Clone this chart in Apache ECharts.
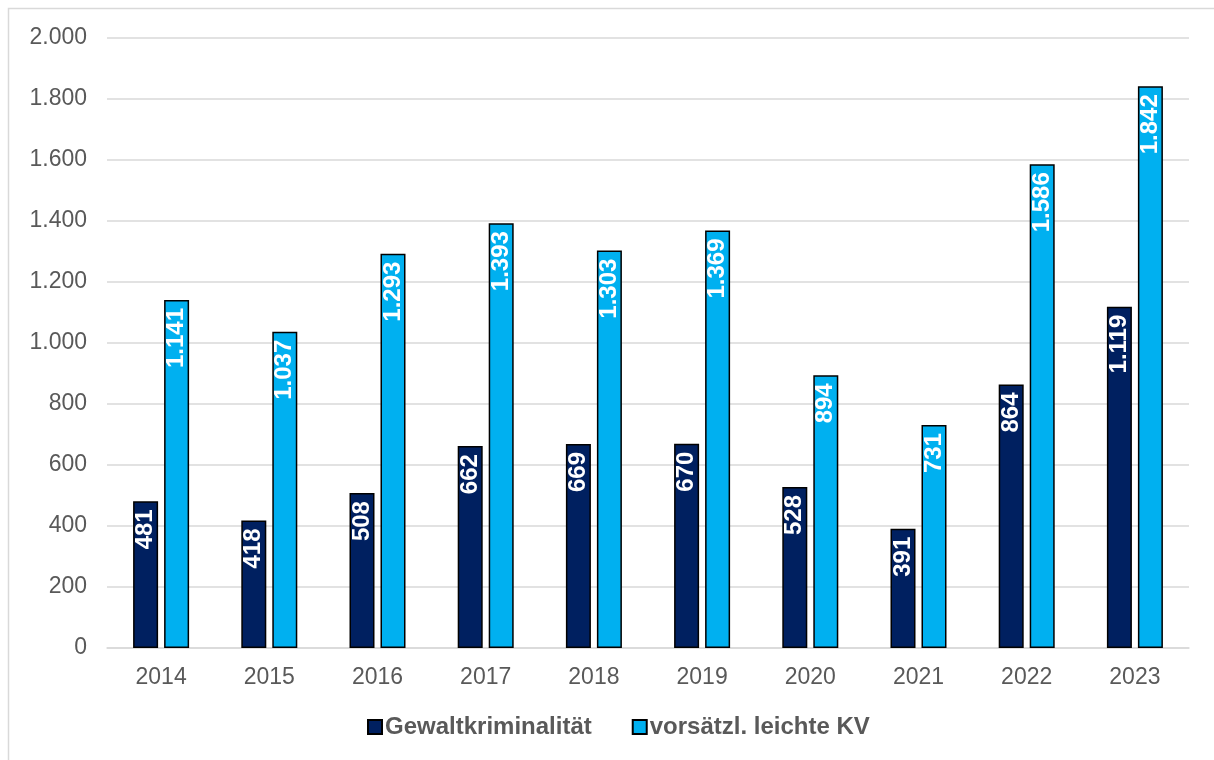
<!DOCTYPE html>
<html>
<head>
<meta charset="utf-8">
<script src="https://cdn.jsdelivr.net/npm/echarts@6/dist/echarts.min.js"></script>
<style>
  html, body { margin: 0; padding: 0; background: #ffffff; }
  #chart { width: 1214px; height: 760px; }
</style>
</head>
<body>
<div id="chart"></div>
<script>
// Jahre und Fallzahlen
const years = ['2014', '2015', '2016', '2017', '2018', '2019', '2020', '2021', '2022', '2023'];
const gewaltkriminalitaet = [481, 418, 508, 662, 669, 670, 528, 391, 864, 1119];
const leichteKV = [1141, 1037, 1293, 1393, 1303, 1369, 894, 731, 1586, 1842];
const seriesNames = ['Gewaltkriminalität', 'vorsätzl. leichte KV'];
const yTicks = { min: 0, max: 2000, interval: 200 };

const fontFamily = '"Liberation Sans", Arial, sans-serif';
const fmt = v => v.toLocaleString('de-DE');

const chart = echarts.init(document.getElementById('chart'), null, { renderer: 'canvas' });

// Wert senkrecht im oberen Ende des Balkens
const barLabel = {
  show: true,
  position: 'insideTop',
  rotate: 90,
  align: 'right',
  verticalAlign: 'middle',
  distance: 8,
  color: '#ffffff',
  fontWeight: 'bold',
  fontSize: 24,
  fontFamily: fontFamily,
  formatter: p => fmt(p.value)
};

chart.setOption({
  animation: false,
  backgroundColor: '#ffffff',
  graphic: [{
    type: 'rect',
    shape: { x: 8.5, y: 8.5, width: 1400, height: 1000 },
    style: { fill: 'none', stroke: '#d9d9d9', lineWidth: 1.5 },
    silent: true
  }],
  grid: { left: 107, right: 25, top: 38, bottom: 112, containLabel: false },
  legend: {
    bottom: 16,
    left: 362,
    itemWidth: 14,
    itemHeight: 14,
    itemGap: 40,
    icon: 'rect',
    textStyle: { color: '#595959', fontSize: 24, fontWeight: 'bold', fontFamily: fontFamily, padding: [0, 0, 0, -2] },
    data: seriesNames
  },
  xAxis: {
    type: 'category',
    data: years,
    axisLine: { show: true, lineStyle: { color: '#d9d9d9', width: 1.5 } },
    axisTick: { show: false },
    axisLabel: { color: '#595959', fontSize: 23, fontFamily: fontFamily, margin: 18 }
  },
  yAxis: {
    type: 'value',
    min: yTicks.min,
    max: yTicks.max,
    interval: yTicks.interval,
    axisLine: { show: false },
    axisTick: { show: false },
    splitLine: { lineStyle: { color: '#d9d9d9', width: 1.5 } },
    axisLabel: { color: '#595959', fontSize: 23, fontFamily: fontFamily, margin: 20, formatter: v => fmt(v) }
  },
  series: [
    {
      name: seriesNames[0],
      type: 'bar',
      data: gewaltkriminalitaet,
      barWidth: 25,
      barGap: '24%',
      itemStyle: { color: '#002060', borderColor: '#000000', borderWidth: 1.5 },
      label: barLabel
    },
    {
      name: seriesNames[1],
      type: 'bar',
      data: leichteKV,
      barWidth: 25,
      barGap: '24%',
      itemStyle: { color: '#00b0f0', borderColor: '#000000', borderWidth: 1.5 },
      label: barLabel
    }
  ]
});
</script>
</body>
</html>
